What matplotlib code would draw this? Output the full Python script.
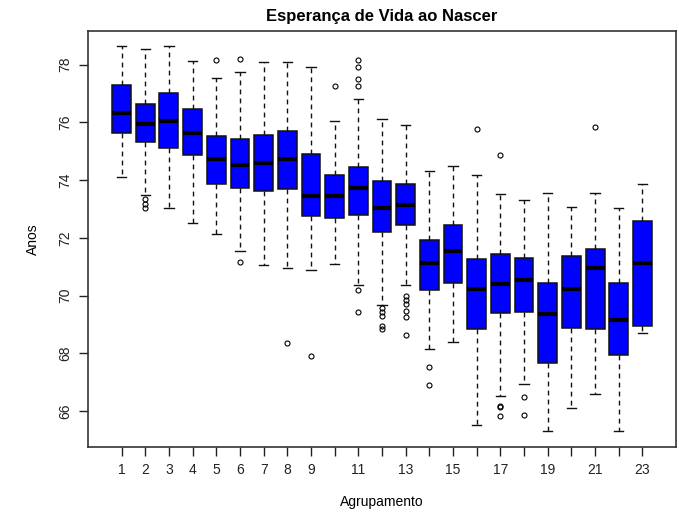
"""Boxplot da esperança de vida ao nascer por agrupamento (estilo gráfico base do R)."""

import matplotlib

matplotlib.use("Agg")

import matplotlib.pyplot as plt  # noqa: E402

plt.rcParams["font.family"] = ["Liberation Sans", "DejaVu Sans"]

grupos = list(range(1, 24))
bigode_inf = [74.10, 73.47, 73.04, 72.51, 72.12, 71.54, 71.07, 70.95, 70.87, 71.10, 70.38, 69.69,
              70.35, 68.15, 68.40, 65.51, 66.51, 66.94, 65.30, 66.11, 66.60, 65.30, 68.70]
quartil_1 = [75.62, 75.32, 75.12, 74.88, 73.88, 73.74, 73.62, 73.68, 72.74, 72.68, 72.80, 72.19,
             72.43, 70.18, 70.43, 68.84, 69.39, 69.42, 67.66, 68.88, 68.84, 67.95, 68.94]
mediana = [76.32, 75.93, 76.03, 75.63, 74.74, 74.53, 74.59, 74.72, 73.45, 73.45, 73.74, 73.04,
           73.15, 71.14, 71.53, 70.24, 70.39, 70.53, 69.35, 70.24, 70.94, 69.14, 71.14]
quartil_3 = [77.28, 76.62, 77.03, 76.47, 75.51, 75.44, 75.57, 75.69, 74.92, 74.17, 74.44, 73.97,
             73.88, 71.93, 72.43, 71.25, 71.43, 71.29, 70.43, 71.38, 71.60, 70.43, 72.58]
bigode_sup = [78.64, 78.55, 78.64, 78.11, 77.55, 77.74, 78.09, 78.10, 77.92, 76.03, 76.81, 76.12,
              75.92, 74.32, 74.48, 74.19, 73.53, 73.32, 73.57, 73.08, 73.57, 73.03, 73.88]
atipicos = [
    [],
    [73.33, 73.18, 73.04],
    [],
    [],
    [78.15],
    [78.21, 71.18],
    [],
    [68.37],
    [67.92],
    [77.25],
    [78.17, 77.92, 77.51, 77.25, 70.18, 69.42],
    [69.56, 69.42, 69.31, 68.96, 68.83],
    [69.98, 69.85, 69.72, 69.48, 69.25, 68.62],
    [67.52, 66.92],
    [],
    [75.76],
    [74.87, 66.19, 66.13, 65.82],
    [66.48, 65.88],
    [],
    [],
    [75.83],
    [],
    [],
]
rotulos_x = ["1", "2", "3", "4", "5", "6", "7", "8", "9", "", "11", "", "13", "", "15", "",
             "17", "", "19", "", "21", "", "23"]

estatisticas = [
    {"whislo": lo, "q1": a, "med": m, "q3": b, "whishi": hi, "fliers": f}
    for lo, a, m, b, hi, f in zip(bigode_inf, quartil_1, mediana, quartil_3, bigode_sup, atipicos)
]

fig = plt.figure(figsize=(6.79, 5.17), dpi=100)
ax = fig.add_axes([88 / 679, 1 - 446.7 / 517, (676 - 88) / 679, (446.7 - 30.7) / 517])

ax.bxp(
    estatisticas,
    positions=grupos,
    widths=0.8,
    patch_artist=True,
    boxprops={"facecolor": "#0000ff", "edgecolor": "#111111", "linewidth": 1.1},
    medianprops={"color": "black", "linewidth": 3.0, "solid_capstyle": "butt"},
    whiskerprops={"color": "#111111", "linewidth": 1.0, "linestyle": (0, (3.5, 3))},
    capprops={"color": "#111111", "linewidth": 1.0},
    capwidths=0.4,
    flierprops={"marker": "o", "markerfacecolor": "none", "markeredgecolor": "black",
                "markersize": 3.6, "markeredgewidth": 0.8},
)

# limites no estilo do R: faixa dos dados + 4%
y_min = min(min(bigode_inf), min(min(f) for f in atipicos if f))
y_max = max(max(bigode_sup), max(max(f) for f in atipicos if f))
pad_y = 0.04 * (y_max - y_min)
ax.set_ylim(y_min - pad_y, y_max + pad_y)
pad_x = 0.04 * len(grupos)
ax.set_xlim(0.5 - pad_x, len(grupos) + 0.5 + pad_x)

ax.set_xticks(grupos)
ax.set_xticklabels(rotulos_x, fontsize=10)
ax.set_yticks([66, 68, 70, 72, 74, 76, 78])
ax.set_yticklabels(["66", "68", "70", "72", "74", "76", "78"], fontsize=10, rotation=90,
                   va="center")
ax.tick_params(axis="both", direction="out", length=6.5, width=1.0, pad=5, colors="#222222")
for lado in ax.spines.values():
    lado.set_linewidth(1.2)
    lado.set_color("#333333")

ax.set_title("Esperança de Vida ao Nascer", fontsize=12, fontweight="bold", pad=7,
             family=["Liberation Sans Narrow", "Liberation Sans"])
ax.set_xlabel("Agrupamento", fontsize=10, labelpad=13)
ax.set_ylabel("Anos", fontsize=10, labelpad=13)

fig.savefig("out.png", dpi=100)
